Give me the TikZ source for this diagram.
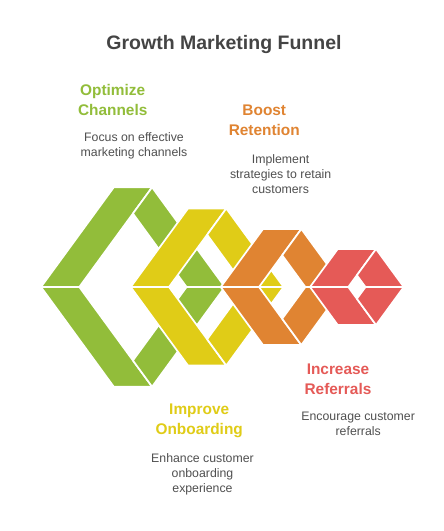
\documentclass[tikz,border=0pt]{standalone}
\usepackage{fontspec}
\setmainfont{Liberation Sans}
\definecolor{cgreen}{RGB}{146,189,58}
\definecolor{cyellow}{RGB}{224,204,23}
\definecolor{corange}{RGB}{224,132,50}
\definecolor{cred}{RGB}{229,90,87}
\definecolor{ctitle}{RGB}{68,68,68}
\definecolor{cdesc}{RGB}{80,80,80}
\newcommand{\mlines}[1]{\begin{tabular}[t]{@{}c@{}}#1\end{tabular}}
\tikzset{
  piece/.style={draw=white, line width=1.7pt, line join=round},
  headtext/.style={anchor=base, inner sep=0pt, font=\fontsize{15.4}{20}\selectfont\bfseries},
  desctext/.style={anchor=base, inner sep=0pt, text=cdesc, font=\fontsize{12.3}{15}\selectfont},
}
\newcommand{\funnelhex}[3]{%
  \pgfmathsetmacro{\hxL}{#1}%
  \pgfmathsetmacro{\hxD}{0.73*#2}%
  \pgfmathsetmacro{\hxW}{38.3}%
  \pgfmathsetmacro{\hxTLx}{#1+\hxD}%
  \pgfmathsetmacro{\hxTRx}{#1+\hxD+\hxW}%
  \pgfmathsetmacro{\hxRx}{#1+2*\hxD+\hxW}%
  \pgfmathsetmacro{\hxLix}{#1+\hxW}%
  \pgfmathsetmacro{\hxRix}{#1+2*\hxD}%
  \pgfmathsetmacro{\hxMx}{#1+\hxD+\hxW/2}%
  \pgfmathsetmacro{\hxTy}{287-#2}%
  \pgfmathsetmacro{\hxBy}{287+#2}%
  \pgfmathsetmacro{\hxTiy}{287-#2+\hxW/(2*0.73)}%
  \pgfmathsetmacro{\hxBiy}{287+#2-\hxW/(2*0.73)}%
  \path[piece, fill=#3] (\hxL,287) -- (\hxTLx,\hxTy) -- (\hxTRx,\hxTy) -- (\hxLix,287) -- cycle;
  \path[piece, fill=#3] (\hxTRx,\hxTy) -- (\hxRx,287) -- (\hxRix,287) -- (\hxMx,\hxTiy) -- cycle;
  \path[piece, fill=#3] (\hxL,287) -- (\hxTLx,\hxBy) -- (\hxTRx,\hxBy) -- (\hxLix,287) -- cycle;
  \path[piece, fill=#3] (\hxTRx,\hxBy) -- (\hxRx,287) -- (\hxRix,287) -- (\hxMx,\hxBiy) -- cycle;
}
\begin{document}
\begin{tikzpicture}[x=1pt,y=-1pt]
\useasboundingbox[fill=white] (0,0) rectangle (444,531);
% title
\node[anchor=base, inner sep=0pt, text=ctitle, font=\fontsize{19.5}{24}\selectfont\bfseries] (title) at (224,49.5) {Growth Marketing Funnel};
% shapes
\funnelhex{41}{99.7}{cgreen}
\funnelhex{130.7}{78.5}{cyellow}
\funnelhex{220.7}{58}{corange}
\funnelhex{310}{38}{cred}
% labels
\node[headtext, text=cgreen] (h1) at (112.7,95) {\mlines{Optimize\\Channels}};
\node[desctext] (d1) at (134,141.5) {\mlines{Focus on effective\\marketing channels}};
\node[headtext, text=corange] (h2) at (264.3,115) {\mlines{Boost\\Retention}};
\node[desctext] (d2) at (280.6,163.3) {\mlines{Implement\\strategies to retain\\customers}};
\node[headtext, text=cyellow] (h3) at (199.2,414.5) {\mlines{Improve\\Onboarding}};
\node[desctext] (d3) at (202.5,462.7) {\mlines{Enhance customer\\onboarding\\experience}};
\node[headtext, text=cred] (h4) at (338,374.3) {\mlines{Increase\\Referrals}};
\node[desctext] (d4) at (358.2,420) {\mlines{Encourage customer\\referrals}};
\end{tikzpicture}
\end{document}
